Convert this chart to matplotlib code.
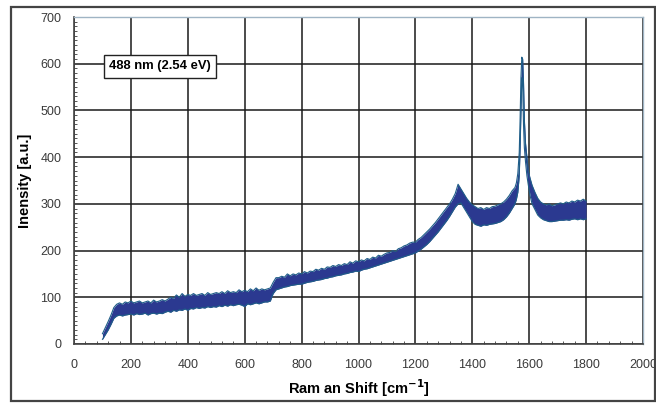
import matplotlib
matplotlib.use("Agg")
import matplotlib.pyplot as plt
from matplotlib.patches import Rectangle
from matplotlib.ticker import MultipleLocator

plt.rcParams['font.family'] = ['Liberation Sans', 'DejaVu Sans']

# Raman shift (cm^-1) and lower / upper envelope of the noisy intensity band
shift = [100, 110, 120, 130, 140, 150, 160, 170, 180, 190,
         200, 210, 220, 230, 240, 250, 260, 270, 280, 290,
         300, 310, 320, 330, 340, 350, 360, 370, 380, 390,
         400, 410, 420, 430, 440, 450, 460, 470, 480, 490,
         500, 510, 520, 530, 540, 550, 560, 570, 580, 590,
         600, 610, 620, 630, 640, 650, 660, 670, 680, 690,
         700, 710, 720, 730, 740, 750, 760, 770, 780, 790,
         800, 810, 820, 830, 840, 850, 860, 870, 880, 890,
         900, 910, 920, 930, 940, 950, 960, 970, 980, 990,
         1000, 1010, 1020, 1030, 1040, 1050, 1060, 1070, 1080, 1090,
         1100, 1110, 1120, 1130, 1140, 1150, 1160, 1170, 1180, 1190,
         1200, 1210, 1220, 1230, 1240, 1250, 1260, 1270, 1280, 1290,
         1300, 1310, 1320, 1330, 1340, 1350, 1360, 1370, 1380, 1390,
         1400, 1410, 1420, 1430, 1440, 1450, 1460, 1470, 1480, 1490,
         1500, 1510, 1520, 1530, 1540, 1550, 1555, 1560, 1565, 1568,
         1571, 1574, 1577, 1580, 1583, 1587, 1592, 1597, 1603, 1610,
         1620, 1630, 1640, 1650, 1660, 1670, 1680, 1690, 1700, 1710,
         1720, 1730, 1740, 1750, 1760, 1770, 1780, 1790, 1800]

low = [10, 20, 30, 42, 55, 60, 62, 60, 62, 63,
       64, 62, 65, 63, 64, 66, 62, 65, 66, 64,
       66, 65, 68, 70, 68, 72, 70, 73, 72, 75,
       72, 76, 75, 78, 76, 78, 77, 80, 78, 80,
       79, 82, 80, 83, 81, 84, 82, 84, 85, 83,
       80, 86, 84, 86, 88, 86, 88, 90, 90, 92,
       108, 116, 118, 120, 122, 123, 125, 126, 127, 128,
       128, 130, 132, 133, 134, 136, 137, 138, 140, 141,
       143, 144, 146, 147, 148, 150, 151, 153, 154, 156,
       155, 158, 160, 161, 163, 165, 167, 169, 171, 173,
       175, 177, 179, 181, 183, 185, 187, 189, 191, 193,
       195, 199, 203, 208, 213, 219, 226, 233, 240, 248,
       256, 264, 273, 283, 293, 300, 302, 292, 282, 272,
       262, 256, 254, 252, 255, 254, 256, 257, 258, 260,
       262, 266, 272, 280, 290, 300, 310, 325, 360, 420,
       500, 570, 560, 470, 420, 390, 360, 340, 318, 300,
       288, 276, 270, 266, 264, 262, 262, 263, 264, 265,
       265, 266, 265, 267, 268, 266, 268, 266, 268]

high = [22, 35, 48, 62, 78, 85, 88, 85, 90, 88,
        92, 88, 90, 92, 88, 90, 92, 88, 94, 90,
        92, 95, 92, 96, 100, 98, 105, 100, 108, 102,
        106, 104, 108, 104, 106, 108, 104, 110, 106, 108,
        110, 108, 112, 108, 114, 110, 112, 110, 116, 112,
        115, 112, 118, 114, 120, 115, 118, 116, 118, 120,
        132, 142, 142, 145, 143, 150, 146, 150, 148, 152,
        150, 155, 152, 156, 155, 160, 158, 162, 160, 165,
        164, 168, 166, 170, 168, 172, 170, 176, 173, 178,
        176, 180, 178, 183, 181, 186, 184, 190, 188, 192,
        195, 196, 200, 198, 204, 206, 210, 212, 216, 218,
        218, 224, 228, 234, 240, 246, 253, 260, 268, 276,
        284, 292, 300, 310, 322, 342, 332, 322, 312, 304,
        298, 294, 290, 292, 288, 292, 290, 294, 295, 298,
        300, 304, 310, 318, 328, 335, 345, 365, 410, 480,
        570, 614, 610, 560, 480, 430, 400, 370, 355, 340,
        325, 312, 304, 300, 298, 300, 296, 298, 300, 302,
        300, 304, 302, 306, 304, 308, 306, 310, 306]

xticks = [0, 200, 400, 600, 800, 1000, 1200, 1400, 1600, 1800, 2000]
yticks = [0, 100, 200, 300, 400, 500, 600, 700]

fig = plt.figure(figsize=(6.56, 4.03), dpi=100)
fig.patch.set_facecolor('white')

# outer chart-area frame
fig.patches.append(Rectangle((11 / 656, 2 / 403), 644 / 656, 394 / 403,
                             transform=fig.transFigure, fill=False,
                             edgecolor='#444444', linewidth=1.6))

ax = fig.add_axes([74 / 656, (403 - 344) / 403, (643 - 74) / 656, (344 - 17) / 403])
ax.set_xlim(0, 2000)
ax.set_ylim(0, 700)
ax.set_xticks(xticks)
ax.set_yticks(yticks)
ax.xaxis.set_minor_locator(MultipleLocator(40))
ax.yaxis.set_minor_locator(MultipleLocator(10))
ax.tick_params(which='major', length=0, labelsize=9, colors='#3a3a3a')
ax.tick_params(axis='x', which='major', pad=11)
ax.tick_params(axis='y', which='major', pad=9)
ax.tick_params(which='minor', direction='in', length=2.5, width=0.7, color='#555555')
ax.grid(True, which='major', color='#1a1a1a', linewidth=1.1)
ax.set_axisbelow(True)

for s in ['left', 'bottom']:
    ax.spines[s].set_color('#444444')
    ax.spines[s].set_linewidth(1.2)
for s in ['top', 'right']:
    ax.spines[s].set_color('#9fb4c4')
    ax.spines[s].set_linewidth(1.0)

ax.fill_between(shift, low, high, color='#2b3990', linewidth=0, zorder=3)
ax.plot(shift, low, color='#1f5e88', linewidth=0.8, zorder=4)
ax.plot(shift, high, color='#1f5e88', linewidth=0.8, zorder=4)

ax.set_xlabel('Ram an Shift [cm$^{\\mathbf{-1}}$]', fontsize=10.5, fontweight='bold', labelpad=4)
ax.set_ylabel('Inensity [a.u.]', fontsize=10.5, fontweight='bold', labelpad=6)

ax.text(302, 595, '488 nm (2.54 eV)', fontsize=9.4, fontweight='bold',
        ha='center', va='center', zorder=5,
        bbox=dict(boxstyle='square,pad=0.42', facecolor='white',
                  edgecolor='#222222', linewidth=1.0))

fig.savefig('out.png', dpi=100, facecolor='white')
